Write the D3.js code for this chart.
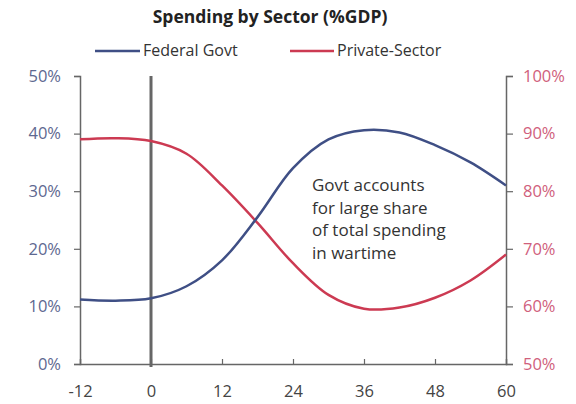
<!DOCTYPE html>
<html><head><meta charset="utf-8">
<script src="https://cdn.jsdelivr.net/npm/d3@7"></script>
<style>
body{margin:0;background:#fff;}
svg{display:block;font-family:"Open Sans",sans-serif;}
</style></head>
<body><svg id="c" width="576" height="404"></svg>
<script>
const months = [-12,-6,0,6,12,18,24,30,36,42,48,54,60];
const federalGovt = [11.2,11.0,11.4,13.5,18,25.5,34,39,40.6,40.2,38,35,31];
const privateSector = [89,89.2,88.7,86.5,81,74.5,67.5,62,59.6,59.8,61.5,64.5,69];
const xTicks = [-12,0,12,24,36,48,60];
const leftTicks = [0,10,20,30,40,50];
const rightTicks = [50,60,70,80,90,100];
const annotation = ["Govt accounts","for large share","of total spending","in wartime"];

const svg = d3.select("#c");
const L=80,R=506,T=76,B=364;
const x = d3.scaleLinear().domain([-12,60]).range([L,R]);
const yL = d3.scaleLinear().domain([0,50]).range([B,T]);
const yR = d3.scaleLinear().domain([50,100]).range([B,T]);
const axisCol="#666";
const blue="#3f4f85", red="#cc3a52";

// title
svg.append("text").attr("x",270).attr("y",23).attr("text-anchor","middle")
  .attr("font-size",17.5).attr("font-weight","bold").attr("fill","#222").text("Spending by Sector (%GDP)");
// legend
svg.append("line").attr("x1",95).attr("x2",140).attr("y1",51).attr("y2",51).attr("stroke",blue).attr("stroke-width",2.5);
svg.append("text").attr("x",143).attr("y",56).attr("font-size",16).attr("fill","#333").text("Federal Govt");
svg.append("line").attr("x1",290).attr("x2",334).attr("y1",51).attr("y2",51).attr("stroke",red).attr("stroke-width",2.5);
svg.append("text").attr("x",337).attr("y",56).attr("font-size",16).attr("fill","#333").text("Private-Sector");

// axes
const gL = svg.append("g").attr("transform",`translate(${L},0)`)
  .call(d3.axisLeft(yL).tickValues(leftTicks).tickFormat(d=>d+"%").tickSize(6).tickPadding(13));
const gR = svg.append("g").attr("transform",`translate(${R},0)`)
  .call(d3.axisRight(yR).tickValues(rightTicks).tickFormat(d=>d+"%").tickSize(7).tickPadding(10));
const gB = svg.append("g").attr("transform",`translate(0,${B})`)
  .call(d3.axisBottom(x).tickValues(xTicks).tickFormat(d=>String(d)).tickSize(-5).tickPadding(21));
[gL,gR,gB].forEach(g=>{
  g.select(".domain").attr("stroke",axisCol).attr("stroke-width",1.5);
  g.selectAll(".tick line").attr("stroke",axisCol).attr("stroke-width",1.2);
  g.selectAll("text").attr("font-size",16.5).attr("font-family","'Open Sans',sans-serif");
});
gL.selectAll("text").attr("fill","#5d6890");
gR.selectAll("text").attr("fill","#d0607c");
gB.selectAll("text").attr("fill","#444");
gB.selectAll(".tick line").filter(d=>d===-12||d===60).remove();

// zero line
svg.append("line").attr("x1",x(0)).attr("x2",x(0)).attr("y1",T).attr("y2",B+3)
  .attr("stroke","#666").attr("stroke-width",3);

const lineL = d3.line().x((d,i)=>x(months[i])).y(d=>yL(d)).curve(d3.curveCatmullRom);
const lineR = d3.line().x((d,i)=>x(months[i])).y(d=>yR(d)).curve(d3.curveCatmullRom);
svg.append("path").attr("d",lineR(privateSector)).attr("fill","none").attr("stroke",red).attr("stroke-width",2.5);
svg.append("path").attr("d",lineL(federalGovt)).attr("fill","none").attr("stroke",blue).attr("stroke-width",2.5);

// annotation
const at = svg.append("text").attr("x",312).attr("y",191).attr("font-size",17).attr("fill","#333");
annotation.forEach((s,i)=>at.append("tspan").attr("x",312).attr("dy",i?22.5:0).text(s));
</script></body></html>
